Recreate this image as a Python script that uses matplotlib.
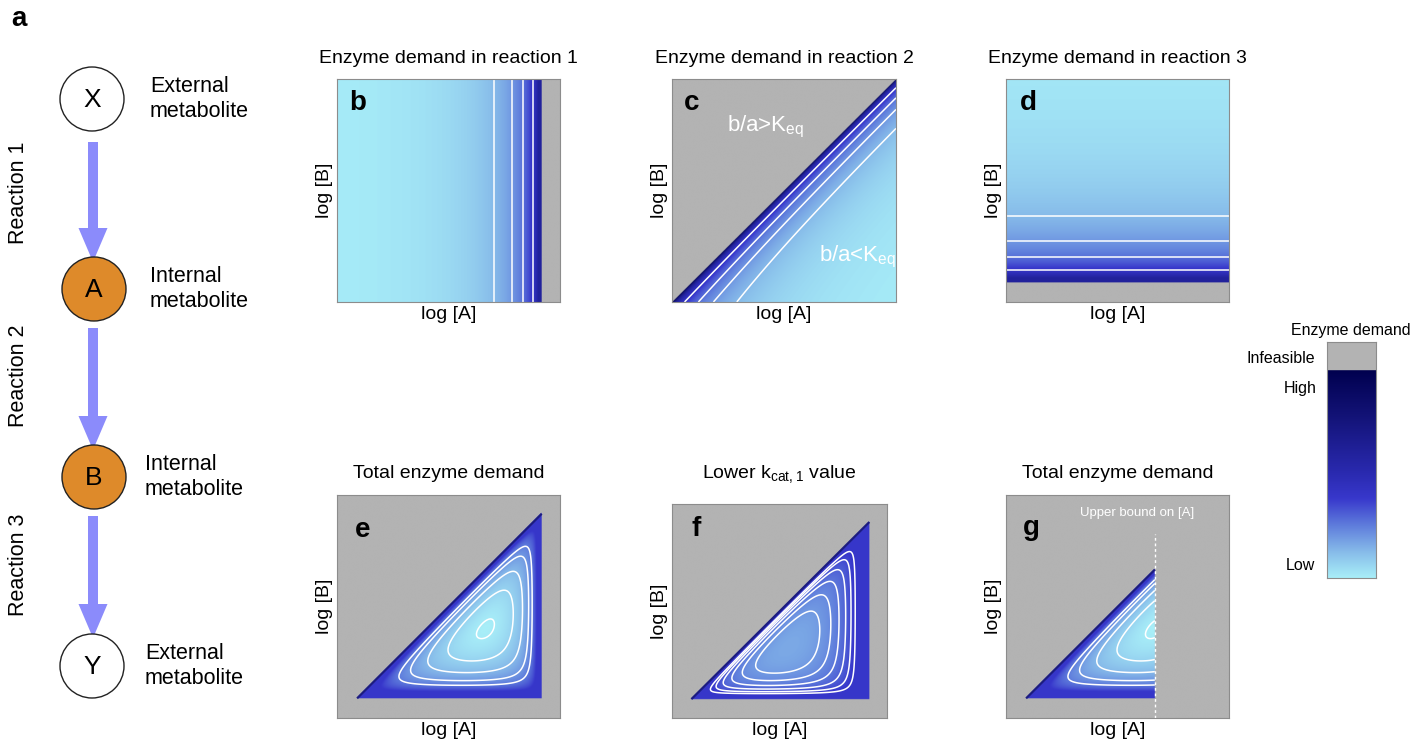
import numpy as np
import matplotlib.pyplot as plt
from matplotlib.colors import LinearSegmentedColormap, Normalize, PowerNorm
from matplotlib.patches import Circle, FancyArrow, Rectangle

plt.rcParams['font.family'] = ['Liberation Sans', 'DejaVu Sans']
plt.rcParams['mathtext.fontset'] = 'custom'
plt.rcParams['mathtext.rm'] = 'Liberation Sans'

# pathway X -> A -> B -> Y
node_names = ['X', 'A', 'B', 'Y']
node_kinds = ['External\nmetabolite', 'Internal\nmetabolite', 'Internal\nmetabolite', 'External\nmetabolite']
node_fill = ['white', '#de8a2a', '#de8a2a', 'white']
reaction_names = ['Reaction 1', 'Reaction 2', 'Reaction 3']

# kinetic model, log concentrations scaled to 0..1
a_max = 0.918       # equilibrium limit of reaction 1 on log[A]
b_min = 0.088       # equilibrium limit of reaction 3 on log[B]
a_cap = 0.668       # extra upper bound on [A] (panel g)
force_slope = [3.5, 3.5, 2.5]
sat_A = 0.5         # saturation term of reaction 2 in [A]
kcat_normal = [1.0, 1.0, 1.0]
kcat_lower = [0.25, 1.0, 1.0]

# contour levels: enzyme demand (b-d), demand relative to the optimum (e-g)
single_levels = [1.9, 2.7, 4.0, 8.0]
total_levels = [1.008, 1.12, 1.30, 1.58, 1.91]
lower_levels = [1.1, 1.22, 1.38, 1.6, 1.9, 2.3]

panel_titles = ['Enzyme demand in reaction 1', 'Enzyme demand in reaction 2',
                'Enzyme demand in reaction 3', 'Total enzyme demand',
                r'Lower $\mathregular{k_{cat,1}}$ value', 'Total enzyme demand']
panel_letters = ['b', 'c', 'd', 'e', 'f', 'g']

cmap_pos = [0, 0.12, 0.25, 0.38, 0.5, 0.75, 1.0]
cmap_colors = ['#a8eef8', '#88bdea', '#5f7ddc', '#3838cc', '#2a2ab0', '#15157c', '#00004e']
gray = '#b3b3b3'

cmap = LinearSegmentedColormap.from_list('demand', list(zip(cmap_pos, cmap_colors)))
cmap.set_bad(gray)

W, H = 1428, 742
fig = plt.figure(figsize=(W / 100, H / 100), dpi=100)


def px_axes(l, t, r, b):
    return fig.add_axes([l / W, 1 - b / H, (r - l) / W, (b - t) / H])


# ---- pathway diagram
ax0 = fig.add_axes([0, 0, 1, 1])
ax0.set_xlim(0, W)
ax0.set_ylim(H, 0)
ax0.set_axis_off()

node_y = [99, 289, 477, 666]
node_x = [92, 94, 94, 92]
text_x = [150, 150, 145, 145]
for y0, y1 in [(142, 262), (328, 450), (516, 638)]:
    ax0.add_patch(FancyArrow(93, y0, 0, y1 - y0, width=10, head_width=29, head_length=34,
                             length_includes_head=True, color='#8b8bfb', lw=0))
for i in range(4):
    ax0.add_patch(Circle((node_x[i], node_y[i]), 32, facecolor=node_fill[i], edgecolor='#222222', lw=1, zorder=3))
    ax0.text(node_x[i], node_y[i] + 1, node_names[i], ha='center', va='center', fontsize=19, zorder=4)
    ax0.text(text_x[i], node_y[i], node_kinds[i], ha='left', va='center', fontsize=15.5)
for yc, name in zip([193, 376, 565], reaction_names):
    ax0.text(19, yc, name, rotation=90, ha='center', va='center', fontsize=15.5)
fig.text(11 / W, 1 - 26 / H, 'a', fontsize=20, fontweight='bold', va='baseline')

# ---- model fields
n = 500
grid = np.linspace(0, 1, n)
la, lb = np.meshgrid(grid, grid)


def demand(force, slope):
    out = np.full(force.shape, np.nan)
    ok = force > 0
    out[ok] = 1 / (1 - np.exp(-slope * force[ok]))
    return out


e1 = demand(a_max - la, force_slope[0])
e2 = demand(la - lb, force_slope[1]) * (1 + sat_A * np.exp(-3 * la))
e3 = demand(lb - b_min, force_slope[2])

tot_e = e1 / kcat_normal[0] + e2 / kcat_normal[1] + e3 / kcat_normal[2]
tot_f = e1 / kcat_lower[0] + e2 / kcat_lower[1] + e3 / kcat_lower[2]
tot_g = np.where(la <= a_cap, tot_e, np.nan)
e_min = np.nanmin(tot_e)
f_min = np.nanmin(tot_f)

boxes = [(337, 79, 560, 302), (672, 79, 896, 302), (1006, 79, 1229, 302),
         (337, 495, 560, 718), (672, 504, 887, 718), (1006, 495, 1229, 718)]
letter_off = [(12, 31), (12, 31), (14, 31), (18, 42), (20, 32), (17, 40)]
title_y = [63, 63, 63, 478, 478, 478]

fields = [e1, e2, e3, tot_e, tot_f, tot_g]
refs = [1, 1, 1, e_min, f_min, e_min]
norms = [Normalize(0, 5)] * 3 + [PowerNorm(0.75, 0, 4), PowerNorm(0.75, -0.35, 3.65), PowerNorm(0.75, 0, 4)]
z_caps = [3.0, 10, 3.0, 1.15, 0.8, 1.15]
levels = [single_levels] * 3 + [[e_min * r for r in total_levels],
                                [f_min * r for r in lower_levels],
                                [e_min * r for r in total_levels]]
a_limit = [a_max, a_max, a_max, a_max, a_max, a_cap]

for i in range(6):
    l, t, r, b = boxes[i]
    ax = px_axes(l, t, r, b)
    z = np.minimum(np.log(fields[i] / refs[i]), z_caps[i])
    ax.imshow(np.ma.masked_invalid(z), extent=[0, 1, 0, 1], origin='lower', cmap=cmap,
              norm=norms[i], interpolation='bilinear', aspect='auto')
    ax.contour(grid, grid, np.ma.masked_invalid(fields[i]), levels=levels[i],
               colors='white', linewidths=1.1)
    if i >= 3:
        # dark edge along the reaction 2 equilibrium line
        diag = np.where((la <= a_limit[i]) & (lb >= b_min), la - lb, np.nan)
        ax.contour(grid, grid, np.ma.masked_invalid(diag), levels=[0.002],
                   colors='#1c1c80', linewidths=1.6)
    ax.set_xlim(0, 1)
    ax.set_ylim(0, 1)
    ax.set_xticks([])
    ax.set_yticks([])
    for s in ax.spines.values():
        s.set_color('#8c8c8c')
        s.set_linewidth(0.8)
    ax.set_xlabel('log [A]', fontsize=14, labelpad=3)
    ax.set_ylabel('log [B]', fontsize=14, labelpad=3)
    dx, dy = letter_off[i]
    ax.text(dx / (r - l), 1 - dy / (b - t), panel_letters[i], transform=ax.transAxes,
            fontsize=20, fontweight='bold', va='baseline')
    fig.text((l + r) / 2 / W, 1 - title_y[i] / H, panel_titles[i], ha='center',
             va='baseline', fontsize=14)
    if i == 1:
        ax.text(0.245, 0.764, r'b/a>$\mathregular{K_{eq}}$', color='white', fontsize=16,
                transform=ax.transAxes, va='baseline')
        ax.text(0.656, 0.184, r'b/a<$\mathregular{K_{eq}}$', color='white', fontsize=16,
                transform=ax.transAxes, va='baseline')
    if i == 5:
        ax.axvline(a_cap, ymin=0, ymax=0.824, color='white', lw=1, ls=(0, (2, 2)))
        ax.text(0.586, 0.918, 'Upper bound on [A]', color='white', fontsize=9.5,
                ha='center', va='center', transform=ax.transAxes)

# ---- colour key
cax = px_axes(1327, 342, 1376, 578)
split = (578 - 369) / (578 - 342)
cax.imshow(np.linspace(0, 1, 256)[:, None], extent=[0, 1, 0, split], origin='lower',
           cmap=cmap, aspect='auto')
cax.add_patch(Rectangle((0, split), 1, 1 - split, color=gray))
cax.set_xlim(0, 1)
cax.set_ylim(0, 1)
cax.set_xticks([])
cax.set_yticks([])
for s in cax.spines.values():
    s.set_color('#8c8c8c')
    s.set_linewidth(0.8)
fig.text(1351 / W, 1 - 335 / H, 'Enzyme demand', ha='center', va='baseline', fontsize=11.5)
fig.text(1315 / W, 1 - 358 / H, 'Infeasible', ha='right', va='center', fontsize=11.5)
fig.text(1317 / W, 1 - 389 / H, 'High', ha='right', va='center', fontsize=11.5)
fig.text(1315 / W, 1 - 565 / H, 'Low', ha='right', va='center', fontsize=11.5)

fig.savefig('out.png', dpi=100)
